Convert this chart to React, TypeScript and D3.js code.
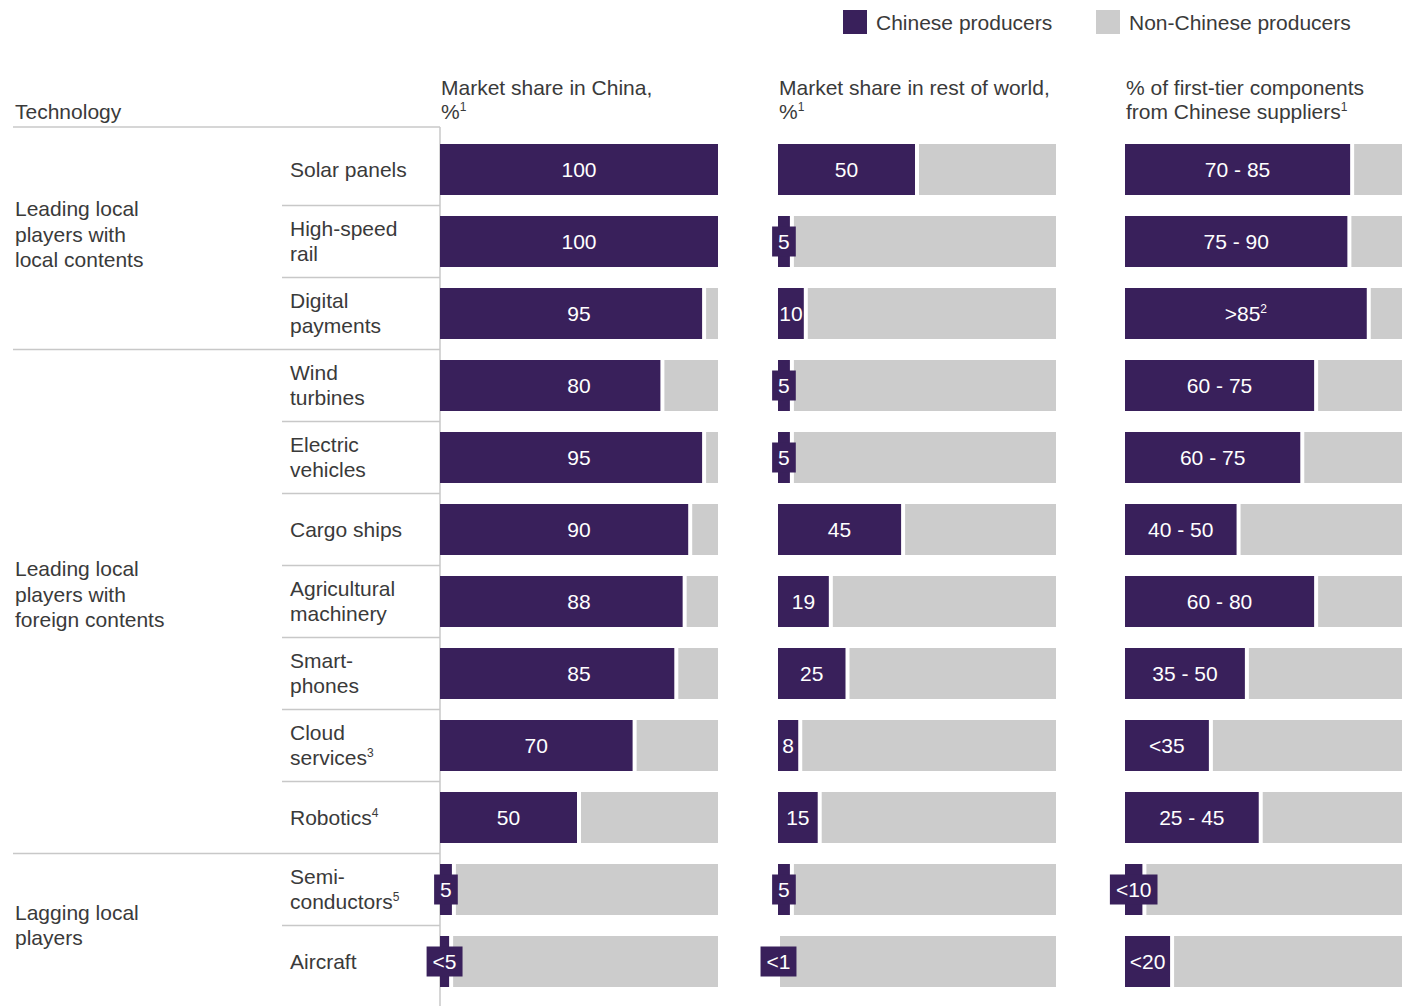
import React from "react";
import * as d3 from "d3";

const rowLabels = [
  "Solar panels",
  "High-speed\nrail",
  "Digital\npayments",
  "Wind\nturbines",
  "Electric\nvehicles",
  "Cargo ships",
  "Agricultural\nmachinery",
  "Smart-\nphones",
  "Cloud\nservices",
  "Robotics",
  "Semi-\nconductors",
  "Aircraft",
];
const rowNotes = ["", "", "", "", "", "", "", "", "3", "4", "5", ""];

const groupLabels = [
  "Leading local\nplayers with\nlocal contents",
  "Leading local\nplayers with\nforeign contents",
  "Lagging local\nplayers",
];
const groupSizes = [3, 7, 2];

const chinaShare = [100, 100, 95, 80, 95, 90, 88, 85, 70, 50, 5, 4];
const chinaLabels = ["100", "100", "95", "80", "95", "90", "88", "85", "70", "50", "5", "<5"];

const worldShare = [50, 5, 10, 5, 5, 45, 19, 25, 8, 15, 5, 0];
const worldLabels = ["50", "5", "10", "5", "5", "45", "19", "25", "8", "15", "5", "<1"];

const supplierShare = [82, 81, 88, 69, 64, 41, 69, 44, 31, 49, 7, 17];
const supplierLabels = ["70 - 85", "75 - 90", ">85", "60 - 75", "60 - 75", "40 - 50", "60 - 80", "35 - 50", "<35", "25 - 45", "<10", "<20"];
const supplierNotes = ["", "", "2", "", "", "", "", "", "", "", "", ""];

const columnTitles = [
  ["Market share in China,", "%", "1"],
  ["Market share in rest of world,", "%", "1"],
  ["% of first-tier components", "from Chinese suppliers", "1"],
];

const legendItems = ["Chinese producers", "Non-Chinese producers"];

const PURPLE = "#39205b";
const GRAY = "#cccccc";
const TEXT = "#3a3a3a";
const LINE = "#c8c8c8";
const FONT = "'Liberation Sans', Arial, sans-serif";
const FS = 21;

function textWidth(s: string) {
  let w = 0;
  for (const c of s) {
    if (c === " ") w += 0.278;
    else if (c === "-") w += 0.333;
    else if (c === "<" || c === ">") w += 0.584;
    else w += 0.556;
  }
  return w * FS;
}

export default function App() {
  const W = 1410;
  const H = 1006;
  const n = rowLabels.length;
  const y = d3
    .scaleBand<number>()
    .domain(d3.range(n))
    .range([133.5, 133.5 + 72 * n])
    .paddingInner(21 / 72)
    .paddingOuter(21 / 144);
  const bw = y.bandwidth();

  const columns = [
    { x: d3.scaleLinear().domain([0, 100]).range([440, 718]), vals: chinaShare, labels: chinaLabels, notes: [] as string[], centerWide: true },
    { x: d3.scaleLinear().domain([0, 100]).range([778, 1056]), vals: worldShare, labels: worldLabels, notes: [] as string[], centerWide: false },
    { x: d3.scaleLinear().domain([0, 100]).range([1125, 1402]), vals: supplierShare, labels: supplierLabels, notes: supplierNotes, centerWide: false },
  ];

  const rowBoundary = (i: number) => (y(i) as number) - (y.step() - bw) / 2;

  const groupStarts: number[] = [];
  let acc = 0;
  groupSizes.forEach((s) => {
    groupStarts.push(acc);
    acc += s;
  });

  return (
    <svg
      width={W}
      height={H}
      style={{ position: "absolute", left: 0, top: 0, background: "#fff" }}
      fontFamily={FONT}
    >
      {/* Legend */}
      <rect x={843} y={10} width={24} height={24} fill={PURPLE} />
      <text x={876} y={30} fontSize={FS} fill={TEXT}>{legendItems[0]}</text>
      <rect x={1096} y={10} width={24} height={24} fill={GRAY} />
      <text x={1129} y={30} fontSize={FS} fill={TEXT}>{legendItems[1]}</text>

      {/* Column headers */}
      {columns.map((c, ci) => (
        <g key={"h" + ci}>
          <text x={c.x(0) + 1} y={95} fontSize={FS} fill={TEXT}>{columnTitles[ci][0]}</text>
          <text x={c.x(0) + 1} y={119} fontSize={FS} fill={TEXT}>
            {columnTitles[ci][1]}
            <tspan fontSize={12} dy={-8}>{columnTitles[ci][2]}</tspan>
          </text>
        </g>
      ))}

      {/* Technology header */}
      <text x={15} y={119} fontSize={FS} fill={TEXT}>Technology</text>
      <line x1={13} x2={440} y1={127} y2={127} stroke={LINE} strokeWidth={1.5} />
      <line x1={440} x2={440} y1={127} y2={H} stroke={LINE} strokeWidth={1.5} />

      {/* Separators */}
      {d3.range(1, n).map((i) => {
        const isGroup = groupStarts.includes(i);
        const yy = rowBoundary(i);
        return (
          <line key={"s" + i} x1={isGroup ? 13 : 282} x2={440} y1={yy} y2={yy} stroke={LINE} strokeWidth={1.5} />
        );
      })}

      {/* Group labels */}
      {groupLabels.map((g, gi) => {
        const lines = g.split("\n");
        const first = groupStarts[gi];
        const last = first + groupSizes[gi] - 1;
        const cy = ((y(first) as number) + (y(last) as number) + bw) / 2 - (lines.length > 2 ? 7 : 0);
        const lh = 25.5;
        return (
          <text key={"g" + gi} fontSize={FS} fill={TEXT}>
            {lines.map((l, li) => (
              <tspan key={li} x={15} y={cy + (li - (lines.length - 1) / 2) * lh + 7}>{l}</tspan>
            ))}
          </text>
        );
      })}

      {/* Row labels */}
      {rowLabels.map((r, i) => {
        const lines = r.split("\n");
        const cy = (y(i) as number) + bw / 2;
        const lh = 25.5;
        return (
          <text key={"r" + i} fontSize={FS} fill={TEXT}>
            {lines.map((l, li) => (
              <tspan key={li} x={290} y={cy + (li - (lines.length - 1) / 2) * lh + 7}>
                {l}
                {li === lines.length - 1 && rowNotes[i] ? (
                  <tspan fontSize={12} dy={-8}>{rowNotes[i]}</tspan>
                ) : null}
              </tspan>
            ))}
          </text>
        );
      })}

      {/* Bars */}
      {columns.map((c, ci) => (
        <g key={"c" + ci}>
          {c.vals.map((v, i) => {
            const y0 = y(i) as number;
            const x0 = c.x(0);
            const x1 = c.x(100);
            const xv = c.x(v);
            const dark = v >= 100 ? x1 - x0 : Math.max(0, xv - x0 - 2);
            const grayStart = v <= 0 ? x0 + 2 : xv + 2;
            const label = c.labels[i];
            const note = c.notes[i];
            const tw = textWidth(label) + (note ? 7 : 0);
            const needBox = tw + 1 > dark;
            const cx = c.centerWide && v >= 80 ? (x0 + x1) / 2 : x0 + Math.max(dark, 1) / 2;
            const boxW = tw + 12;
            return (
              <g key={i}>
                {v < 100 && (
                  <rect x={grayStart} y={y0} width={x1 - grayStart} height={bw} fill={GRAY} />
                )}
                {dark > 0 && <rect x={x0} y={y0} width={dark} height={bw} fill={PURPLE} />}
                {needBox && (
                  <rect x={cx - boxW / 2} y={y0 + bw / 2 - 15} width={boxW} height={30} fill={PURPLE} />
                )}
                <text
                  x={cx}
                  y={y0 + bw / 2 + 7}
                  fontSize={FS}
                  fill="#ffffff"
                  textAnchor="middle"
                >
                  {label}
                  {note ? <tspan fontSize={12} dy={-8}>{note}</tspan> : null}
                </text>
              </g>
            );
          })}
        </g>
      ))}
    </svg>
  );
}
